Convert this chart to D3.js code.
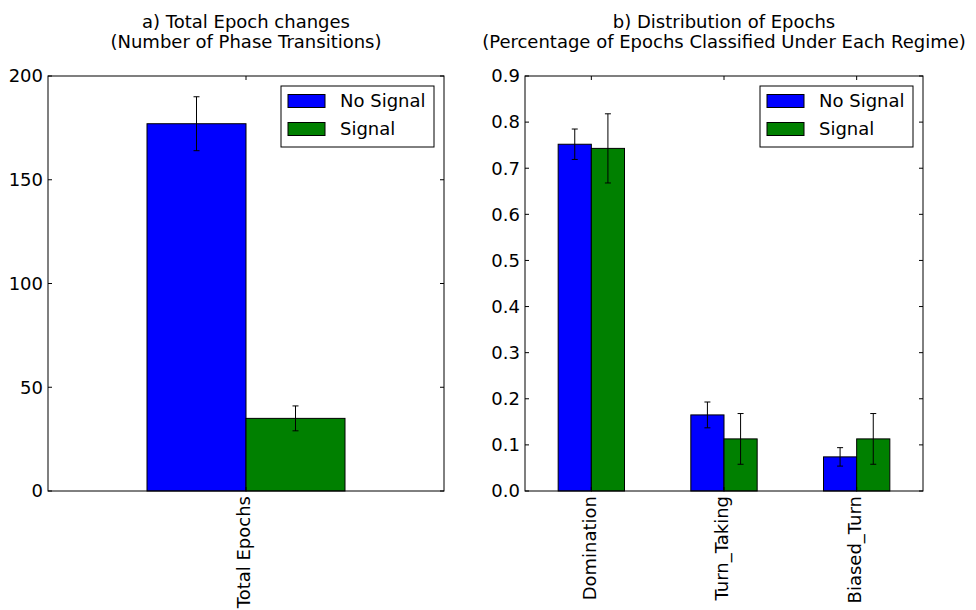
<!DOCTYPE html>
<html>
<head>
<meta charset="utf-8">
<script src="https://cdn.jsdelivr.net/npm/d3@7"></script>
<style>
  html, body { margin: 0; padding: 0; background: #fff; }
  svg { display: block; }
  text { font-family: "DejaVu Sans", sans-serif; fill: #000; }
</style>
</head>
<body>
<svg id="chart" width="976" height="610"></svg>
<script>
// Series shared by both panels
const seriesNames = ["No Signal", "Signal"];
const seriesColors = ["#0000ff", "#008000"];

// Panel a: total number of phase transitions
const totalCategories = ["Total Epochs"];
const totalNoSignal = [177];
const totalNoSignalErr = [13];
const totalSignal = [35];
const totalSignalErr = [6];
const totalTicks = [0, 50, 100, 150, 200];

// Panel b: share of epochs per regime
const regimeCategories = ["Domination", "Turn_Taking", "Biased_Turn"];
const regimeNoSignal = [0.752, 0.165, 0.074];
const regimeNoSignalErr = [0.033, 0.028, 0.020];
const regimeSignal = [0.743, 0.113, 0.113];
const regimeSignalErr = [0.075, 0.055, 0.055];
const regimeTicks = [0.0, 0.1, 0.2, 0.3, 0.4, 0.5, 0.6, 0.7, 0.8, 0.9];

const svg = d3.select("#chart");
const FONT = 18;

function panel(opts) {
  const { left, right, top, bottom, categories, series, yMax, ticks, tickFmt, title } = opts;
  const g = svg.append("g");
  const x = d3.scaleLinear().domain([-0.5, categories.length - 0.5]).range([left, right]);
  const y = d3.scaleLinear().domain([0, yMax]).range([bottom, top]);
  const bw = 0.25;

  // Title (two lines)
  const cx = (left + right) / 2;
  const t = g.append("text").attr("x", cx).attr("y", 28)
    .attr("text-anchor", "middle").style("font-size", FONT + "px");
  t.append("tspan").attr("x", cx).attr("y", 28).text(title[0]);
  t.append("tspan").attr("x", cx).attr("y", 48).text(title[1]);

  // Bars
  series.forEach((s, si) => {
    const off = si === 0 ? -bw : 0;
    g.selectAll(null).data(s.values).enter().append("rect")
      .attr("x", (d, i) => x(i + off))
      .attr("width", (d, i) => x(i + off + bw) - x(i + off))
      .attr("y", d => y(d))
      .attr("height", d => y(0) - y(d))
      .attr("fill", seriesColors[si])
      .attr("stroke", "#000").attr("stroke-width", 1);
  });

  // Error bars
  series.forEach((s, si) => {
    const off = si === 0 ? -bw / 2 : bw / 2;
    s.values.forEach((v, i) => {
      const ex = x(i + off);
      const lo = y(v - s.errs[i]), hi = y(v + s.errs[i]);
      g.append("line").attr("x1", ex).attr("x2", ex).attr("y1", lo).attr("y2", hi)
        .attr("stroke", "#000").attr("stroke-width", 1);
      [lo, hi].forEach(yy => g.append("line")
        .attr("x1", ex - 3).attr("x2", ex + 3).attr("y1", yy).attr("y2", yy)
        .attr("stroke", "#000").attr("stroke-width", 1));
    });
  });

  // Frame
  g.append("rect").attr("x", left).attr("y", top)
    .attr("width", right - left).attr("height", bottom - top)
    .attr("fill", "none").attr("stroke", "#000").attr("stroke-width", 1);

  // Y ticks (inward on both spines) and labels
  ticks.forEach(tv => {
    const yy = y(tv);
    g.append("line").attr("x1", left).attr("x2", left + 4).attr("y1", yy).attr("y2", yy)
      .attr("stroke", "#000");
    g.append("line").attr("x1", right).attr("x2", right - 4).attr("y1", yy).attr("y2", yy)
      .attr("stroke", "#000");
    g.append("text").attr("x", left - 5).attr("y", yy).attr("dy", "0.35em")
      .attr("text-anchor", "end").style("font-size", FONT + "px").text(tickFmt(tv));
  });

  // X ticks (inward on top and bottom) and rotated labels
  categories.forEach((c, i) => {
    const xx = x(i);
    g.append("line").attr("x1", xx).attr("x2", xx).attr("y1", bottom).attr("y2", bottom - 4)
      .attr("stroke", "#000");
    g.append("line").attr("x1", xx).attr("x2", xx).attr("y1", top).attr("y2", top + 4)
      .attr("stroke", "#000");
    g.append("text")
      .attr("transform", `translate(${xx - 2},${bottom + 5}) rotate(-90)`)
      .attr("dy", "0.35em").attr("text-anchor", "end")
      .style("font-size", FONT + "px").text(c);
  });

  // Legend
  const lw = 153, lh = 61;
  const lx = right - 10 - lw, ly = top + 10;
  g.append("rect").attr("x", lx).attr("y", ly).attr("width", lw).attr("height", lh)
    .attr("fill", "#fff").attr("stroke", "#000").attr("stroke-width", 1);
  series.forEach((s, si) => {
    const cy = ly + 15 + si * 28;
    g.append("rect").attr("x", lx + 7).attr("y", cy - 6.5).attr("width", 37).attr("height", 13)
      .attr("fill", seriesColors[si]).attr("stroke", "#000").attr("stroke-width", 1);
    g.append("text").attr("x", lx + 59).attr("y", cy).attr("dy", "0.35em")
      .style("font-size", FONT + "px").text(seriesNames[si]);
  });
}

panel({
  left: 48, right: 444, top: 76, bottom: 491,
  categories: totalCategories,
  series: [
    { values: totalNoSignal, errs: totalNoSignalErr },
    { values: totalSignal, errs: totalSignalErr }
  ],
  yMax: 200, ticks: totalTicks, tickFmt: d3.format("d"),
  title: ["a) Total Epoch changes", "(Number of Phase Transitions)"]
});

panel({
  left: 525, right: 923, top: 76, bottom: 491,
  categories: regimeCategories,
  series: [
    { values: regimeNoSignal, errs: regimeNoSignalErr },
    { values: regimeSignal, errs: regimeSignalErr }
  ],
  yMax: 0.9, ticks: regimeTicks, tickFmt: d3.format(".1f"),
  title: ["b) Distribution of Epochs", "(Percentage of Epochs Classified Under Each Regime)"]
});
</script>
</body>
</html>
